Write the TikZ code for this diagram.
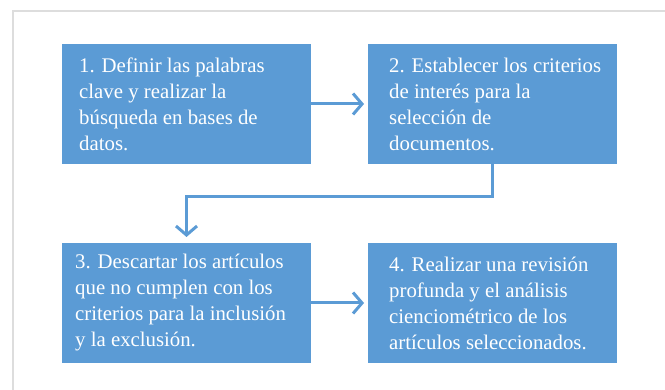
\documentclass[tikz,border=0pt]{standalone}
\usepackage{fontspec}
\setmainfont{Liberation Serif}
\usepackage{tikz}
\usetikzlibrary{arrows.meta, positioning}
\definecolor{azul}{RGB}{91,155,213}
\definecolor{marco}{RGB}{221,221,221}

\tikzset{
  caja/.style={rectangle, fill=azul, minimum width=249pt, minimum height=120pt, inner sep=0pt, outer sep=0pt},
  texto/.style={align=left, text=white, inner sep=0pt, font=\fontsize{20.8}{26}\selectfont},
  flecha/.style={draw=azul, line width=3pt, -{Straight Barb[length=9pt, width=21pt, line width=3pt]}, shorten >=4pt}
}

\begin{document}
\begin{tikzpicture}[x=1pt, y=-1pt, node distance=79pt and 57pt]
    \useasboundingbox (0,0) rectangle (665,390);
    \draw[marco, line width=1.5pt] (13,11) rectangle (700,420);

    \node (c1) [caja, anchor=north west] at (62,44) {};
    \node (c2) [caja, right=of c1] {};
    \node (c3) [caja, below=of c1] {};
    \node (c4) [caja, right=of c3] {};

    \node (t1) [texto, right=17pt of c1.west] {1. Definir las palabras\\clave y realizar la\\búsqueda en bases de\\datos.};
    \node (t2) [texto, right=21pt of c2.west] {2. Establecer los criterios\\de interés para la\\selección de\\documentos.};
    \node (t3) [texto, right=13pt of c3.west] {3. Descartar los artículos\\que no cumplen con los\\criterios para la inclusión\\y la exclusión.};
    \node (t4) [texto, right=21pt of c4.west] {4. Realizar una revisión\\profunda y el análisis\\cienciométrico de los\\artículos seleccionados.};

    \draw[flecha] (c1) -- (c2);
    \draw[flecha, shorten >=6pt] (c2.south) -- ++(0,33) -| (c3.north);
    \draw[flecha] (c3) -- (c4);
\end{tikzpicture}
\end{document}
